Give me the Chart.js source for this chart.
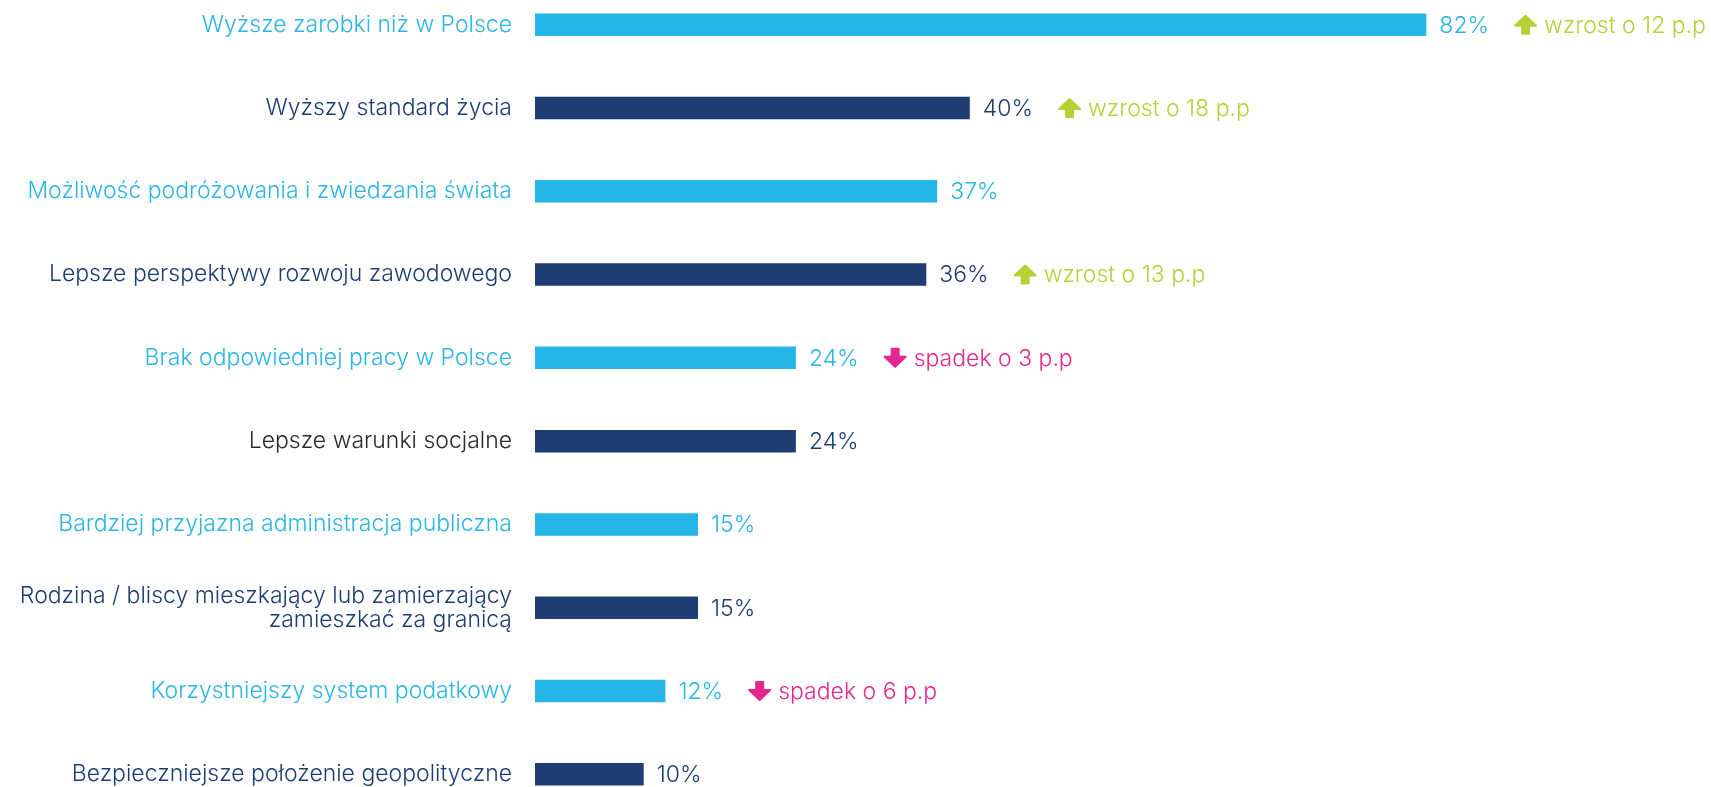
<!DOCTYPE html>
<html>
<head>
<meta charset="utf-8">
<script src="https://cdn.jsdelivr.net/npm/chart.js@4"></script>
<style>
  html, body { margin: 0; padding: 0; background: #ffffff; overflow: hidden; width: 1711px; height: 787px; }
  #wrap { position: absolute; left: 0; top: -17px; width: 1711px; height: 833px; }
</style>
</head>
<body>
<div id="wrap"><canvas id="c"></canvas></div>
<script>
const categories = [
  "Wyższe zarobki niż w Polsce",
  "Wyższy standard życia",
  "Możliwość podróżowania i zwiedzania świata",
  "Lepsze perspektywy rozwoju zawodowego",
  "Brak odpowiedniej pracy w Polsce",
  "Lepsze warunki socjalne",
  "Bardziej przyjazna administracja publiczna",
  ["Rodzina / bliscy mieszkający lub zamierzający", "zamieszkać za granicą"],
  "Korzystniejszy system podatkowy",
  "Bezpieczniejsze położenie geopolityczne"
];
const values = [82, 40, 37, 36, 24, 24, 15, 15, 12, 10];
const changes = [12, 18, null, 13, -3, null, null, null, -6, null];
const valueLabels = ["82%", "40%", "37%", "36%", "24%", "24%", "15%", "15%", "12%", "10%"];
const changeLabels = ["wzrost o 12 p.p", "wzrost o 18 p.p", null, "wzrost o 13 p.p", "spadek o 3 p.p", null, null, null, "spadek o 6 p.p", null];

const LIGHT = "#25b5e6";
const NAVY = "#1e3d72";
const GREEN = "#b4d235";
const PINK = "#e1288f";
const FONT = "Inter, 'Open Sans', sans-serif";
const FSIZE = 23;

const barColors = values.map((v, i) => i % 2 === 0 ? LIGHT : NAVY);
const labelColors = categories.map((c, i) => i === 5 ? "#2a2a2a" : (i % 2 === 0 ? "#2ab5e8" : NAVY));

function drawArrow(ctx, x, y, up, color) {
  const cx = x + 11.5;
  const s = up ? 1 : -1;
  const tip = y - s * 9;
  const headBase = tip + s * 10;
  const tail = y + s * 9;
  ctx.save();
  ctx.fillStyle = color;
  ctx.strokeStyle = color;
  ctx.lineWidth = 2;
  ctx.lineJoin = "round";
  ctx.beginPath();
  ctx.moveTo(cx, tip);
  ctx.lineTo(cx + 10.5, headBase);
  ctx.lineTo(cx + 3.5, headBase);
  ctx.lineTo(cx + 3.5, tail);
  ctx.lineTo(cx - 3.5, tail);
  ctx.lineTo(cx - 3.5, headBase);
  ctx.lineTo(cx - 10.5, headBase);
  ctx.closePath();
  ctx.fill();
  ctx.stroke();
  ctx.restore();
}

const annotations = {
  id: "annotations",
  afterDatasetsDraw(chart) {
    const ctx = chart.ctx;
    const meta = chart.getDatasetMeta(0);
    ctx.save();
    ctx.font = "300 " + FSIZE + "px " + FONT;
    ctx.textBaseline = "middle";
    ctx.textAlign = "left";
    meta.data.forEach((bar, i) => {
      const x = bar.x + 13;
      const y = bar.y + 1;
      ctx.fillStyle = barColors[i];
      ctx.fillText(valueLabels[i], x, y);
      if (changes[i] !== null) {
        const w = ctx.measureText(valueLabels[i]).width;
        const ax = x + w + 25;
        const up = changes[i] > 0;
        const col = up ? GREEN : PINK;
        drawArrow(ctx, ax, bar.y, up, col);
        ctx.fillStyle = col;
        ctx.fillText(changeLabels[i], ax + 30, y);
      }
    });
    ctx.restore();
  }
};

new Chart(document.getElementById("c"), {
  type: "bar",
  data: {
    labels: categories,
    datasets: [{
      data: values,
      backgroundColor: barColors,
      borderWidth: 0,
      barPercentage: 0.27,
      categoryPercentage: 1
    }]
  },
  options: {
    indexAxis: "y",
    responsive: true,
    maintainAspectRatio: false,
    animation: false,
    layout: { padding: { left: 0, right: 89, top: 0, bottom: 0 } },
    plugins: { legend: { display: false }, tooltip: { enabled: false } },
    scales: {
      x: { display: false, min: 0, max: 100 },
      y: {
        grid: { display: false, drawTicks: false },
        border: { display: false },
        afterFit(scale) { scale.width = 535; scale.paddingTop = 0; scale.paddingBottom = 0; },
        ticks: {
          padding: 23,
          color: (c) => labelColors[c.index],
          font: { family: FONT, size: FSIZE, weight: "300", lineHeight: 1.05 }
        }
      }
    }
  },
  plugins: [annotations]
});
</script>
</body>
</html>
